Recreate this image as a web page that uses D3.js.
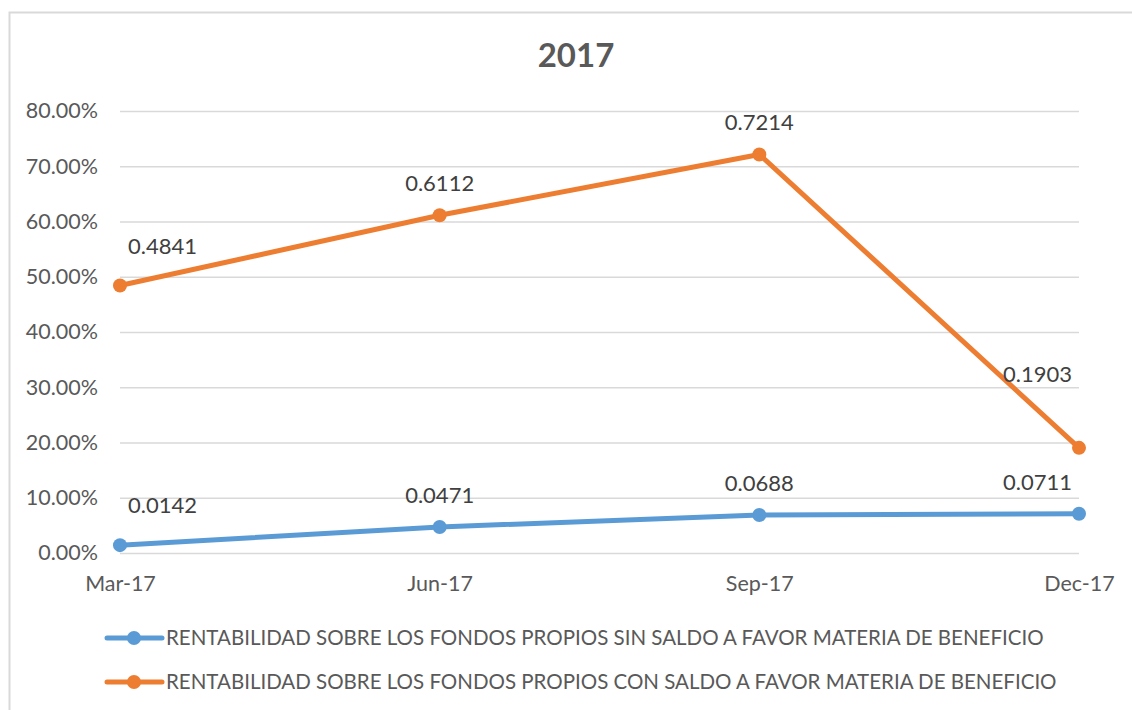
<!DOCTYPE html>
<html>
<head>
<meta charset="utf-8">
<script src="https://cdn.jsdelivr.net/npm/d3@7.9.0/dist/d3.min.js"></script>
<style>
  body { margin: 0; background: #fff; }
  svg text { font-family: Lato, "Open Sans", sans-serif; }
</style>
</head>
<body>
<svg id="chart" width="1132" height="710"></svg>
<script>
const months = ["Mar-17", "Jun-17", "Sep-17", "Dec-17"];
const sinSaldo = [0.0142, 0.0471, 0.0688, 0.0711];
const conSaldo = [0.4841, 0.6112, 0.7214, 0.1903];
const yTicks = [0, 0.1, 0.2, 0.3, 0.4, 0.5, 0.6, 0.7, 0.8];
const seriesNames = [
  "RENTABILIDAD SOBRE LOS FONDOS PROPIOS SIN SALDO A FAVOR MATERIA DE BENEFICIO",
  "RENTABILIDAD SOBRE LOS FONDOS PROPIOS CON SALDO A FAVOR MATERIA DE BENEFICIO"
];
const colors = ["#5b9bd5", "#ed7d31"];

const svg = d3.select("#chart");

// chart frame (only top and left edges show in the crop)
svg.append("path")
  .attr("d", "M9.5,710 V12.5 H1132")
  .attr("fill", "none")
  .attr("stroke", "#d9d9d9")
  .attr("stroke-width", 2);

svg.append("text")
  .attr("x", 576).attr("y", 67)
  .attr("text-anchor", "middle")
  .attr("font-size", 33).attr("font-weight", "bold")
  .attr("fill", "#595959")
  .text("2017");

const x = d3.scalePoint().domain(months).range([120, 1079]);
const y = d3.scaleLinear().domain([0, 0.8]).range([553, 111]);

// gridlines
svg.append("g")
  .selectAll("line")
  .data(yTicks)
  .join("line")
  .attr("x1", 120).attr("x2", 1079)
  .attr("y1", d => y(d) + 0.5).attr("y2", d => y(d) + 0.5)
  .attr("stroke", "#d9d9d9").attr("stroke-width", 1.5);

// y axis labels
const yAxis = svg.append("g")
  .attr("transform", "translate(120,0)")
  .call(d3.axisLeft(y).tickValues(yTicks).tickFormat(d3.format(".2%")).tickSize(0).tickPadding(22));
yAxis.select(".domain").remove();
yAxis.selectAll("text")
  .attr("font-size", 21.5).attr("fill", "#595959")
  .style("font-family", "Lato, sans-serif");

// x axis labels
const xAxis = svg.append("g")
  .attr("transform", "translate(0,553)")
  .call(d3.axisBottom(x).tickSize(0).tickPadding(23));
xAxis.select(".domain").remove();
xAxis.selectAll("text")
  .attr("font-size", 21.5).attr("fill", "#595959")
  .style("font-family", "Lato, sans-serif");

const line = d3.line().x((d, i) => x(months[i])).y(d => y(d));

[sinSaldo, conSaldo].forEach((vals, s) => {
  const g = svg.append("g");
  g.append("path")
    .attr("d", line(vals))
    .attr("fill", "none")
    .attr("stroke", colors[s])
    .attr("stroke-width", 5)
    .attr("stroke-linejoin", "round");
  g.selectAll("circle")
    .data(vals)
    .join("circle")
    .attr("cx", (d, i) => x(months[i]))
    .attr("cy", d => y(d))
    .attr("r", 7)
    .attr("fill", colors[s]);

  // data labels above each point, pushed inside at the plot edges
  const last = vals.length - 1;
  g.selectAll("text")
    .data(vals)
    .join("text")
    .attr("x", (d, i) => i === 0 ? x(months[i]) + 8 : i === last ? x(months[i]) - 7 : x(months[i]))
    .attr("y", (d, i) => y(d) - (i === 0 ? 32 : i === last && s === 1 ? 66 : 24))
    .attr("text-anchor", (d, i) => i === 0 ? "start" : i === last ? "end" : "middle")
    .attr("font-size", 22)
    .attr("fill", "#404040")
    .text(d => d.toFixed(4));
});

// legend
const legend = svg.append("g");
seriesNames.forEach((name, s) => {
  const ly = 638 + s * 44;
  legend.append("line")
    .attr("x1", 107).attr("x2", 162)
    .attr("y1", ly).attr("y2", ly)
    .attr("stroke", colors[s]).attr("stroke-width", 5)
    .attr("stroke-linecap", "round");
  legend.append("circle")
    .attr("cx", 134).attr("cy", ly).attr("r", 7)
    .attr("fill", colors[s]);
  legend.append("text")
    .attr("x", 166).attr("y", ly + 7)
    .attr("font-size", 20.5)
    .attr("fill", "#595959")
    .text(name);
});
</script>
</body>
</html>
